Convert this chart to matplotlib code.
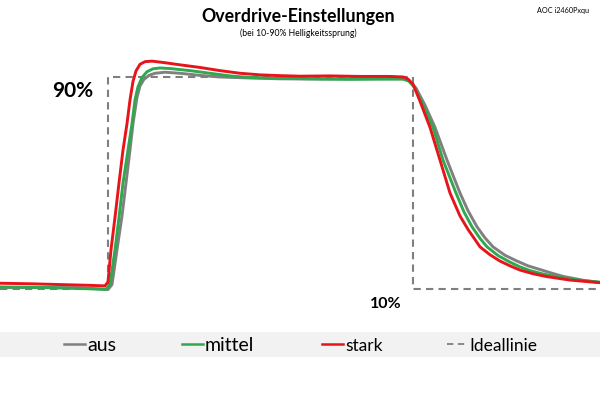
import matplotlib
matplotlib.use("Agg")
import matplotlib.pyplot as plt
from matplotlib.lines import Line2D
from matplotlib.patches import Rectangle

plt.rcParams['font.family'] = ['Lato', 'DejaVu Sans']

# time in ms, brightness in %
t_aus = [0, 4, 8, 10.8, 11.2, 11.7, 12.2, 12.6, 13.0, 13.3, 13.7, 14.0, 14.4, 14.9, 15.5, 16.5, 18, 20, 22, 25,
         28, 32, 36, 40.3, 40.9, 41.6, 42.5, 43.5, 44.7, 46.0, 46.8, 47.7, 48.5, 49.3, 50.5, 51.7, 52.8, 54.0,
         55.2, 56.3, 58.5, 60]
y_aus = [10.4, 10.4, 10.3, 9.6, 11.5, 24.7, 37.5, 50.0, 62.5, 72.5, 82.5, 86.8, 89.3, 90.8, 91.6, 92.0, 91.6, 90.8, 90.2, 89.8,
         89.5, 89.4, 89.5, 89.5, 88.8, 86.0, 79.5, 71.1, 58.7, 46.2, 39.5, 33.4, 29.2, 25.8, 22.6, 20.4, 18.6, 17.2,
         15.8, 14.6, 13.0, 12.3]

t_mittel = [0, 4, 8, 10.6, 11.0, 11.5, 11.9, 12.3, 12.8, 13.2, 13.5, 13.8, 14.2, 14.7, 15.3, 16.0, 17, 19, 21, 23, 25,
            28, 31, 35, 38, 40.3, 40.9, 41.5, 42.3, 43.3, 44.3, 45.6, 46.4, 47.2, 48.0, 48.7, 49.8, 51.0, 52.0, 53.0,
            54.3, 55.7, 58, 60]
y_mittel = [10.6, 10.4, 10.0, 9.7, 11.5, 24.7, 37.0, 50.0, 62.5, 72.5, 81.5, 86.5, 90.0, 92.2, 93.3, 93.6, 93.4, 92.6, 91.6, 90.6, 90.0,
            89.7, 89.5, 89.3, 89.4, 89.4, 88.6, 86.0, 79.5, 71.1, 58.7, 46.2, 39.0, 33.4, 29.0, 25.8, 22.5, 20.0, 18.2, 16.8,
            15.5, 14.4, 13.1, 12.4]

t_stark = [0, 3, 6, 9, 10.5, 10.8, 11.1, 11.5, 11.9, 12.3, 12.7, 13.0, 13.3, 13.6, 14.0, 14.5, 15.2, 16.5, 18, 20, 22,
           24, 26, 28, 30, 33, 36, 39, 40.3, 40.8, 41.3, 42.0, 43.0, 44.0, 45.0, 46.0, 46.8, 48.0, 49.0, 50.0, 51.0,
           52.0, 53.3, 54.7, 57, 60]
y_stark = [12.0, 11.8, 11.5, 11.2, 11.0, 12.5, 24.7, 37.0, 50.0, 62.5, 72.5, 81.5, 88.5, 92.5, 95.0, 96.0, 96.2, 95.6, 94.8, 93.8, 92.6,
           91.6, 91.0, 90.7, 90.5, 90.6, 90.4, 90.4, 90.2, 89.4, 87.5, 81.0, 71.1, 58.7, 46.2, 37.5, 32.4, 25.8, 22.8, 20.4, 18.6,
           17.0, 15.6, 14.5, 13.2, 12.2]

t_ideal = [0, 10.8, 10.8, 41.3, 41.3, 59.7]
y_ideal = [10, 10, 90, 90, 10, 10]

col_aus = '#808080'
col_mittel = '#2fa84f'
col_stark = '#e8141b'

fig = plt.figure(figsize=(6, 3.95), dpi=100)
ax = fig.add_axes([0, 0.2028, 1, 0.6678])
ax.set_xlim(0, 60)
ax.set_ylim(0, 100)
ax.axis('off')

ax.plot(t_ideal, y_ideal, color='#7f7f7f', lw=1.5, dashes=(3.5, 2.5), clip_on=False)
ax.plot(t_aus, y_aus, color=col_aus, lw=2.1, clip_on=False)
ax.plot(t_mittel, y_mittel, color=col_mittel, lw=2.1, clip_on=False)
ax.plot(t_stark, y_stark, color=col_stark, lw=2.1, clip_on=False)


def fy(p):
    # pixel row from top -> figure fraction
    return 1 - p / 395.0


def fx(p):
    return p / 600.0


fig.text(0.497, fy(22), 'Overdrive-Einstellungen', ha='center', va='baseline',
         fontsize=12.8, fontweight='bold')
fig.text(0.497, fy(36), '(bei 10-90% Helligkeitssprung)', ha='center', va='baseline', fontsize=6.2)
fig.text(fx(589), fy(13), 'AOC i2460Pxqu', ha='right', va='baseline', fontsize=5.2)

fig.text(fx(52), fy(97), '90%', ha='left', va='baseline', fontsize=15, fontweight='bold')
fig.text(fx(370), fy(308), '10%', ha='left', va='baseline', fontsize=11.5, fontweight='bold')

# legend band
fig.patches.append(Rectangle((0, fy(357)), 1, 25 / 395.0, transform=fig.transFigure,
                             facecolor='#f2f2f2', edgecolor='none', zorder=0))

legend_items = [
    (64, 85, col_aus, '-', 'aus', 14),
    (182, 203, col_mittel, '-', 'mittel', 14),
    (322, 343, col_stark, '-', 'stark', 12.5),
    (447, 467, '#7f7f7f', '--', 'Ideallinie', 12.5),
]
for x0, x1, c, ls, name, fs in legend_items:
    ln = Line2D([fx(x0), fx(x1)], [fy(344), fy(344)], transform=fig.transFigure,
                color=c, lw=1.8 if ls == '-' else 1.3, linestyle=ls)
    if ls == '--':
        ln.set_dashes((3.5, 2.5))
    fig.add_artist(ln)
    fig.text(fx(x1 + 2), fy(351), name, ha='left', va='baseline', fontsize=fs)

fig.savefig('out.png', dpi=100)
